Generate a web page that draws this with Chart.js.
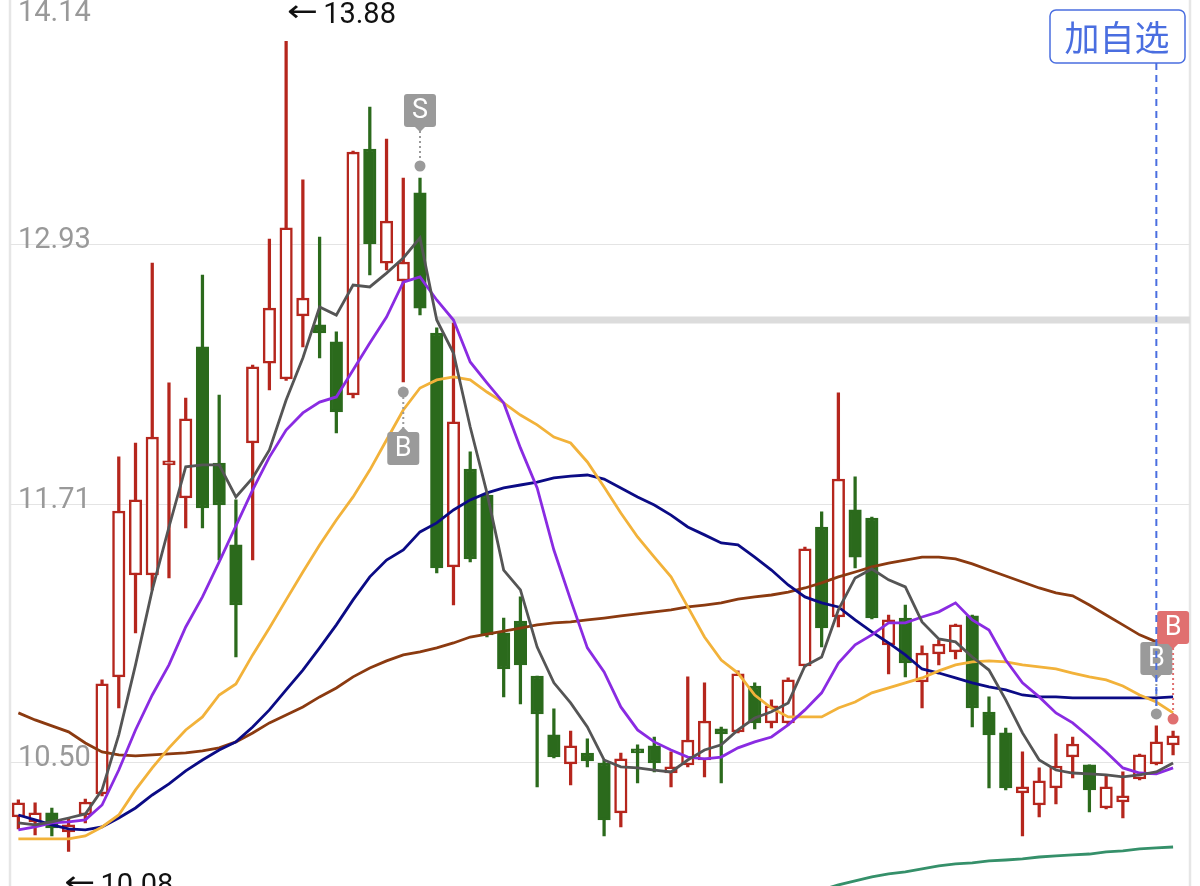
<!DOCTYPE html>
<html>
<head>
<meta charset="utf-8">
<script src="https://cdn.jsdelivr.net/npm/chart.js@4"></script>
<style>
  html, body { margin: 0; padding: 0; background: #fff; }
</style>
</head>
<body>
<canvas id="kline" width="1200" height="886"></canvas>
<script>
const days = Array.from({length: 70}, (_, i) => 'D' + (i + 1));

const opens = [10.242, 10.219, 10.261, 10.172, 10.251, 10.350, 10.899, 11.377, 11.377, 11.893,
  11.738, 12.447, 11.902, 11.518, 11.996, 12.371, 12.296, 12.592, 12.550, 12.470,
  12.221, 13.375, 12.840, 12.756, 13.169, 12.512, 11.415, 11.874, 11.752, 11.105,
  11.161, 10.903, 10.627, 10.491, 10.542, 10.495, 10.261, 10.561, 10.575, 10.448,
  10.486, 10.509, 10.655, 10.641, 10.856, 10.683, 10.683, 10.950, 11.602, 11.180,
  11.682, 11.644, 11.049, 11.175, 10.875, 11.007, 11.016, 11.185, 10.734, 10.636,
  10.355, 10.298, 10.378, 10.523, 10.486, 10.284, 10.312, 10.420, 10.491, 10.580];
const highs = [10.322, 10.308, 10.284, 10.237, 10.326, 10.885, 11.931, 11.996, 12.840, 12.278,
  12.207, 12.784, 12.221, 11.729, 12.362, 12.953, 13.880, 13.230, 12.962, 12.517,
  13.365, 13.572, 13.422, 13.239, 13.239, 12.536, 12.559, 11.954, 11.766, 11.175,
  11.274, 10.903, 10.749, 10.645, 10.608, 10.509, 10.542, 10.580, 10.617, 10.547,
  10.899, 10.871, 10.664, 10.927, 10.871, 10.791, 10.894, 11.508, 11.673, 12.231,
  11.837, 11.649, 11.189, 11.236, 11.044, 11.072, 11.147, 11.189, 10.805, 10.659,
  10.547, 10.472, 10.631, 10.617, 10.486, 10.439, 10.453, 10.537, 10.669, 10.645];
const lows = [10.186, 10.158, 10.153, 10.080, 10.214, 10.340, 10.753, 11.105, 11.307, 11.363,
  11.598, 11.598, 11.447, 10.992, 11.447, 12.245, 12.290, 12.447, 12.395, 12.043,
  12.207, 12.784, 12.808, 12.282, 12.597, 11.386, 11.236, 11.438, 11.086, 10.805,
  10.772, 10.383, 10.519, 10.392, 10.477, 10.153, 10.195, 10.401, 10.453, 10.383,
  10.477, 10.430, 10.401, 10.636, 10.655, 10.659, 10.674, 10.946, 11.039, 11.133,
  11.410, 11.171, 10.913, 10.899, 10.753, 10.955, 10.983, 10.664, 10.378, 10.369,
  10.153, 10.242, 10.303, 10.425, 10.265, 10.280, 10.237, 10.416, 10.486, 10.533];
const closes = [10.308, 10.261, 10.190, 10.205, 10.312, 10.866, 11.677, 11.729, 12.024, 11.912,
  12.109, 11.691, 11.705, 11.236, 12.353, 12.629, 13.005, 12.676, 12.512, 12.142,
  13.361, 12.930, 13.037, 12.845, 12.629, 11.410, 12.095, 11.452, 11.096, 10.936,
  10.955, 10.725, 10.523, 10.575, 10.505, 10.228, 10.514, 10.542, 10.495, 10.477,
  10.603, 10.692, 10.631, 10.913, 10.683, 10.763, 10.885, 11.499, 11.129, 11.827,
  11.461, 11.175, 11.166, 10.964, 11.011, 11.053, 11.143, 10.753, 10.627, 10.378,
  10.383, 10.411, 10.481, 10.584, 10.369, 10.383, 10.341, 10.533, 10.594, 10.622];

const ma5 = [10.214, 10.205, 10.219, 10.237, 10.256, 10.369, 10.627, 10.955, 11.307, 11.602,
  11.884, 11.893, 11.893, 11.743, 11.832, 11.963, 12.198, 12.395, 12.634, 12.596,
  12.737, 12.728, 12.793, 12.864, 12.958, 12.573, 12.418, 12.071, 11.762, 11.400,
  11.307, 11.039, 10.871, 10.777, 10.664, 10.509, 10.477, 10.472, 10.462, 10.453,
  10.509, 10.556, 10.580, 10.650, 10.706, 10.735, 10.777, 10.950, 10.992, 11.213,
  11.363, 11.405, 11.354, 11.321, 11.157, 11.077, 11.063, 10.992, 10.931, 10.791,
  10.636, 10.509, 10.462, 10.448, 10.444, 10.439, 10.430, 10.439, 10.453, 10.495];
const ma10 = [10.181, 10.195, 10.214, 10.219, 10.228, 10.298, 10.462, 10.650, 10.814, 10.955,
  11.133, 11.274, 11.438, 11.607, 11.776, 11.930, 12.057, 12.137, 12.188, 12.212,
  12.338, 12.465, 12.587, 12.751, 12.775, 12.667, 12.573, 12.376, 12.278, 12.184,
  11.973, 11.785, 11.494, 11.260, 11.035, 10.922, 10.758, 10.650, 10.594, 10.556,
  10.523, 10.514, 10.523, 10.566, 10.594, 10.617, 10.674, 10.744, 10.824, 10.964,
  11.049, 11.096, 11.152, 11.152, 11.180, 11.204, 11.246, 11.166, 11.119, 10.978,
  10.871, 10.805, 10.730, 10.683, 10.617, 10.547, 10.472, 10.448, 10.444, 10.472];
const ma20 = [10.139, 10.139, 10.139, 10.139, 10.153, 10.195, 10.251, 10.369, 10.472, 10.566,
  10.650, 10.711, 10.814, 10.866, 11.002, 11.128, 11.260, 11.391, 11.518, 11.635,
  11.743, 11.869, 12.010, 12.151, 12.254, 12.292, 12.306, 12.292, 12.235, 12.184,
  12.127, 12.081, 12.024, 11.996, 11.907, 11.790, 11.668, 11.555, 11.461, 11.368,
  11.227, 11.086, 10.978, 10.917, 10.814, 10.753, 10.711, 10.711, 10.711, 10.753,
  10.781, 10.824, 10.847, 10.871, 10.894, 10.927, 10.955, 10.969, 10.974, 10.969,
  10.955, 10.946, 10.936, 10.917, 10.899, 10.885, 10.856, 10.814, 10.781, 10.730];
const ma30 = [10.251, 10.228, 10.205, 10.186, 10.181, 10.195, 10.237, 10.284, 10.345, 10.397,
  10.458, 10.509, 10.556, 10.594, 10.664, 10.744, 10.838, 10.931, 11.035, 11.143,
  11.260, 11.368, 11.447, 11.494, 11.579, 11.621, 11.682, 11.729, 11.762, 11.785,
  11.799, 11.813, 11.832, 11.841, 11.846, 11.827, 11.785, 11.743, 11.705, 11.658,
  11.602, 11.565, 11.527, 11.518, 11.461, 11.400, 11.330, 11.274, 11.246, 11.227,
  11.166, 11.110, 11.058, 11.002, 10.936, 10.917, 10.894, 10.871, 10.852, 10.838,
  10.814, 10.805, 10.805, 10.800, 10.800, 10.800, 10.800, 10.800, 10.800, 10.805];
const ma60 = [10.730, 10.697, 10.669, 10.641, 10.589, 10.547, 10.533, 10.528, 10.533, 10.538,
  10.542, 10.552, 10.566, 10.594, 10.636, 10.683, 10.720, 10.758, 10.805, 10.847,
  10.899, 10.941, 10.974, 11.002, 11.016, 11.035, 11.058, 11.086, 11.100, 11.114,
  11.128, 11.143, 11.152, 11.157, 11.166, 11.175, 11.185, 11.194, 11.204, 11.213,
  11.227, 11.236, 11.246, 11.264, 11.274, 11.283, 11.297, 11.316, 11.340, 11.368,
  11.391, 11.415, 11.433, 11.447, 11.461, 11.461, 11.452, 11.429, 11.400, 11.372,
  11.344, 11.316, 11.293, 11.279, 11.236, 11.189, 11.143, 11.096, 11.063, 11.035];
const ma120 = [null, null, null, null, null, null, null, null, null, null,
  null, null, null, null, null, null, null, null, null, null,
  null, null, null, null, null, null, null, null, null, null,
  null, null, null, null, null, null, null, null, null, null,
  null, null, null, null, null, null, null, null, 9.900, 9.923,
  9.942, 9.961, 9.975, 9.984, 9.998, 10.012, 10.022, 10.026, 10.036, 10.040,
  10.045, 10.054, 10.059, 10.064, 10.068, 10.078, 10.083, 10.092, 10.097, 10.101];

const gridTicks = [10.50, 11.71, 12.93];
const topTick = '14.14';
const levelPrice = 12.573;
const levelFrom = 25;
const maxMark = {i: 16, text: '13.88'};
const minMark = {i: 3, text: '10.08'};
const signals = [
  {i: 24, label: 'S', side: 'above', color: '#9a9a9a'},
  {i: 23, label: 'B', side: 'below', color: '#9a9a9a'},
  {i: 68, label: 'B', side: 'above', color: '#9a9a9a'},
  {i: 69, label: 'B', side: 'above', color: '#e07070', lift: 36}
];
const watchIndex = 68;

const RED = '#b5261d';
const GREEN = '#2b6a1c';
const rising = closes.map((c, i) => c >= opens[i]);

function roundRect(ctx, x, y, w, h, r) {
  ctx.beginPath();
  ctx.moveTo(x + r, y);
  ctx.arcTo(x + w, y, x + w, y + h, r);
  ctx.arcTo(x + w, y + h, x, y + h, r);
  ctx.arcTo(x, y + h, x, y, r);
  ctx.arcTo(x, y, x + w, y, r);
  ctx.closePath();
}

// arrow + price; the arrow glyph is stretched to the long arrow of the app
function arrowText(ctx, text, x0, top) {
  ctx.save();
  ctx.font = '30px "DejaVu Sans", sans-serif';
  ctx.textBaseline = 'middle';
  const w = ctx.measureText('\u2190').width;
  ctx.translate(x0, top + 12);
  ctx.scale(31 / w, 1);
  ctx.fillText('\u2190', 0, 0);
  ctx.restore();
  ctx.textBaseline = 'top';
  ctx.font = '29px Roboto, sans-serif';
  ctx.fillText(text, x0 + 36, top);
}

const overlay = {
  id: 'overlay',
  beforeDatasetsDraw(chart) {
    const {ctx, scales: {x, y}} = chart;
    ctx.save();
    ctx.strokeStyle = '#e6e6e6';
    ctx.lineWidth = 2.5;
    ctx.beginPath();
    ctx.moveTo(10, 0); ctx.lineTo(10, 886);
    ctx.moveTo(1190, 0); ctx.lineTo(1190, 886);
    ctx.stroke();
    ctx.strokeStyle = '#e4e4e4';
    ctx.lineWidth = 1;
    gridTicks.forEach(v => {
      const py = Math.round(y.getPixelForValue(v)) + 0.5;
      ctx.beginPath(); ctx.moveTo(10, py); ctx.lineTo(1190, py); ctx.stroke();
    });
    ctx.strokeStyle = '#dcdcdc';
    ctx.lineWidth = 7;
    const ly = y.getPixelForValue(levelPrice);
    ctx.beginPath(); ctx.moveTo(x.getPixelForValue(levelFrom), ly); ctx.lineTo(1190, ly); ctx.stroke();
    ctx.restore();
  },
  afterDatasetsDraw(chart) {
    const {ctx, scales: {x, y}} = chart;
    ctx.save();
    // price labels
    ctx.fillStyle = '#999';
    ctx.font = '29px Roboto, sans-serif';
    ctx.textAlign = 'left';
    ctx.textBaseline = 'alphabetic';
    ctx.fillText(topTick, 18, 21);
    gridTicks.forEach(v => ctx.fillText(v.toFixed(2), 18, y.getPixelForValue(v) + 4));
    // extreme marks
    ctx.fillStyle = '#111';
    arrowText(ctx, maxMark.text, x.getPixelForValue(maxMark.i) + 1, 1);
    arrowText(ctx, minMark.text, x.getPixelForValue(minMark.i) - 4, 872);

    // signals
    signals.forEach(s => {
      const cx = x.getPixelForValue(s.i);
      let dotY, boxTop;
      if (s.side === 'above') {
        dotY = y.getPixelForValue(highs[s.i]) - 12;
        boxTop = dotY - 39 - 33 - (s.lift || 0);
      } else {
        dotY = y.getPixelForValue(lows[s.i]) + 10;
        boxTop = dotY + 40;
      }
      const boxBottom = boxTop + 33;
      ctx.fillStyle = s.color;
      ctx.strokeStyle = s.color;
      ctx.beginPath(); ctx.arc(cx, dotY, 5.5, 0, Math.PI * 2); ctx.fill();
      ctx.setLineDash([2, 3]);
      ctx.lineWidth = 2;
      ctx.beginPath();
      if (s.side === 'above') { ctx.moveTo(cx, boxBottom + 4); ctx.lineTo(cx, dotY - 5); }
      else { ctx.moveTo(cx, dotY + 5); ctx.lineTo(cx, boxTop - 4); }
      ctx.stroke();
      ctx.setLineDash([]);
      roundRect(ctx, cx - 16, boxTop, 32, 33, 3);
      ctx.fill();
      ctx.beginPath();
      if (s.side === 'above') {
        ctx.moveTo(cx - 5, boxBottom); ctx.lineTo(cx + 5, boxBottom); ctx.lineTo(cx, boxBottom + 5);
      } else {
        ctx.moveTo(cx - 5, boxTop); ctx.lineTo(cx + 5, boxTop); ctx.lineTo(cx, boxTop - 5);
      }
      ctx.closePath(); ctx.fill();
      ctx.fillStyle = '#fff';
      ctx.font = '27px Roboto, sans-serif';
      ctx.textAlign = 'center';
      ctx.textBaseline = 'middle';
      ctx.fillText(s.label, cx, boxTop + 17);
      ctx.textAlign = 'left';
    });

    // watch-list button with dashed guide
    const bx = x.getPixelForValue(watchIndex);
    ctx.strokeStyle = '#4a6ee0';
    ctx.lineWidth = 2;
    ctx.setLineDash([7, 5]);
    ctx.beginPath();
    ctx.moveTo(bx, 63);
    ctx.lineTo(bx, y.getPixelForValue(highs[watchIndex]) - 18);
    ctx.stroke();
    ctx.setLineDash([]);
    ctx.fillStyle = '#fff';
    ctx.lineWidth = 1.5;
    roundRect(ctx, 1050, 10, 135, 53, 6);
    ctx.fill(); ctx.stroke();
    ctx.fillStyle = '#4a6ee0';
    ctx.font = '35px "Noto Sans CJK SC", sans-serif';
    ctx.textAlign = 'center';
    ctx.textBaseline = 'middle';
    ctx.fillText('加自选', 1117, 38);
    ctx.restore();
  }
};

const lineSet = (label, data, color) => ({
  type: 'line', label, data, borderColor: color, borderWidth: 2.8,
  pointRadius: 0, tension: 0, fill: false, order: 0
});

new Chart(document.getElementById('kline'), {
  type: 'bar',
  data: {
    labels: days,
    datasets: [
      lineSet('MA5', ma5, '#555555'),
      lineSet('MA10', ma10, '#8a2be2'),
      lineSet('MA20', ma20, '#f2b23a'),
      lineSet('MA30', ma30, '#0b0b85'),
      lineSet('MA60', ma60, '#8b3a10'),
      lineSet('MA120', ma120, '#35906a'),
      {
        label: 'body',
        data: opens.map((o, i) => [o, closes[i]]),
        backgroundColor: rising.map(r => r ? '#ffffff' : GREEN),
        borderColor: rising.map(r => r ? RED : GREEN),
        borderWidth: 2.5,
        borderSkipped: false,
        barThickness: 12.5,
        grouped: false,
        order: 1
      },
      {
        label: 'wick',
        data: lows.map((l, i) => [l, highs[i]]),
        backgroundColor: rising.map(r => r ? RED : GREEN),
        borderWidth: 0,
        barThickness: 2.6,
        grouped: false,
        order: 2
      }
    ]
  },
  options: {
    responsive: false,
    animation: false,
    layout: { padding: { left: 10, right: 18.55, top: 0, bottom: 0 } },
    plugins: { legend: { display: false }, tooltip: { enabled: false } },
    scales: {
      x: { display: false, offset: true },
      y: { display: false, min: 9.918, max: 14.074 }
    }
  },
  plugins: [overlay]
});
</script>
</body>
</html>
